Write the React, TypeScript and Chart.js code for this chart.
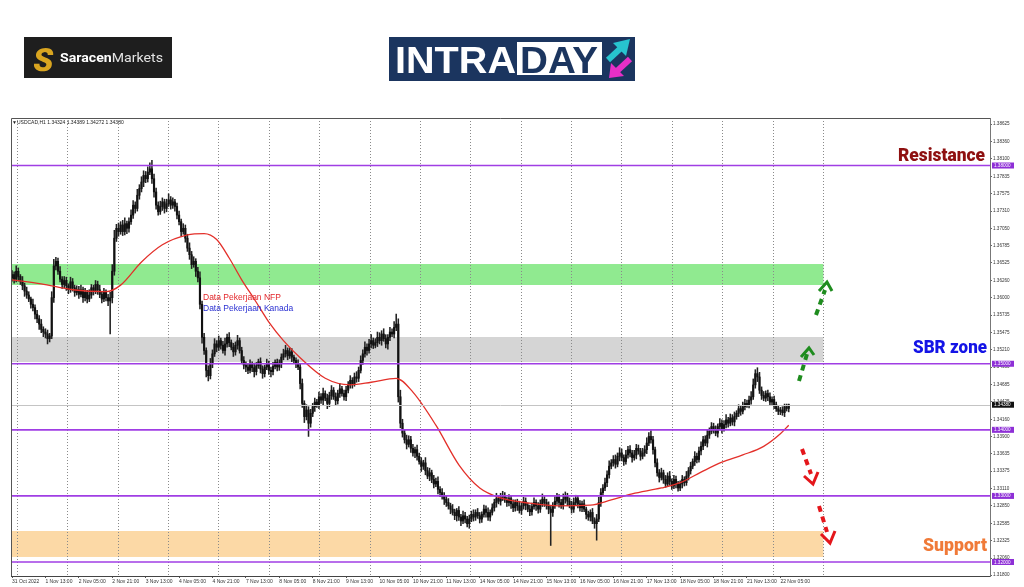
import React, { useEffect, useRef } from "react";
import { Chart, registerables } from "chart.js";

Chart.register(...registerables);

// ---------------- DATA ----------------
const BASE_PRICE = 1.3;
const PIP = 0.0001;

const timeLabels = [
  "31 Oct 2022", "1 Nov 13:00", "2 Nov 05:00", "2 Nov 21:00", "3 Nov 13:00", "4 Nov 05:00",
  "4 Nov 21:00", "7 Nov 13:00", "8 Nov 05:00", "8 Nov 21:00", "9 Nov 13:00", "10 Nov 05:00",
  "10 Nov 21:00", "11 Nov 13:00", "14 Nov 05:00", "14 Nov 21:00", "15 Nov 13:00", "16 Nov 05:00",
  "16 Nov 21:00", "17 Nov 13:00", "18 Nov 05:00", "18 Nov 21:00", "21 Nov 13:00", "22 Nov 05:00",
];
const BARS_PER_LABEL = 16;

const priceTicks = [
  1.38625, 1.3836, 1.381, 1.37835, 1.37575, 1.3731, 1.3705, 1.36785, 1.36525, 1.3626, 1.36,
  1.35735, 1.35475, 1.3521, 1.3495, 1.34685, 1.34425, 1.3416, 1.339, 1.33635, 1.33375, 1.3311,
  1.3285, 1.32585, 1.32325, 1.3206, 1.318,
];

// hourly candles, values in pips above 1.30000
const firstOpen = 630;
const closes = [
  635, 628, 640, 632, 625, 618, 610, 604, 598, 590, 585, 575, 568, 560, 552, 548,
  545, 538, 542, 600, 648, 655, 640, 628, 620, 626, 618, 612, 624, 615, 608, 612,
  605, 612, 600, 608, 598, 604, 615, 610, 620, 612, 605, 598, 608, 600, 595, 600,
  640, 690, 705, 700, 710, 700, 712, 705, 715, 725, 740, 735, 755, 765, 775, 785,
  780, 790, 795, 780, 760, 740, 730, 738, 745, 735, 742, 748, 740, 745, 738, 725,
  715, 700, 705, 690, 675, 665, 650, 655, 640, 630, 590, 540, 520, 490, 482, 500,
  515, 530, 525, 535, 528, 520, 530, 540, 532, 525, 518, 528, 535, 520, 505, 498,
  495, 490, 500, 494, 488, 497, 503, 492, 485, 495, 500, 490, 488, 496, 502, 495,
  500, 510, 515, 520, 512, 518, 510, 505, 500, 495, 470, 440, 420, 430, 410, 425,
  435, 442, 438, 450, 445, 455, 448, 440, 452, 460, 450, 444, 455, 462, 455, 450,
  460, 468, 475, 470, 480, 478, 490, 505, 515, 525, 520, 530, 535, 528, 532, 540,
  535, 545, 538, 530, 540, 548, 545, 555, 560, 450, 410, 395, 385, 378, 385, 372,
  365, 370, 360, 352, 345, 350, 338, 330, 335, 325, 318, 322, 310, 305, 300, 295,
  290, 285, 280, 275, 270, 278, 268, 262, 270, 265, 258, 265, 272, 268, 275, 270,
  265, 272, 280, 275, 268, 275, 282, 290, 296, 292, 298, 300, 294, 290, 296, 288,
  282, 290, 285, 278, 285, 292, 286, 280, 276, 284, 290, 285, 280, 288, 295, 290,
  285, 280, 275, 285, 292, 298, 290, 285, 295, 300, 292, 286, 280, 290, 296, 288,
  282, 288, 280, 272, 268, 275, 262, 258, 265, 290, 305, 312, 320, 332, 345, 350,
  355, 348, 360, 365, 358, 352, 362, 370, 365, 358, 362, 372, 368, 360, 365, 370,
  380, 390, 385, 370, 350, 335, 328, 335, 325, 318, 330, 322, 315, 325, 318, 312,
  318, 325, 320, 330, 338, 345, 352, 360, 355, 368, 375, 385, 380, 392, 398, 405,
  400, 395, 405, 410, 402, 408, 415, 410, 418, 412, 420, 425, 432, 428, 435, 440,
  438, 445, 450, 468, 485, 480, 460, 452, 448, 455, 450, 442, 446, 438, 432, 428,
  430, 426, 435, 432.4, 438,
];
const wickUp = [
  6, 4, 8, 5, 3, 7, 4, 6, 5, 3, 8, 4, 6, 5, 7, 4,
  5, 6, 4, 9, 10, 6, 5, 7, 4, 6, 5, 3, 7, 5, 4, 6,
  5, 7, 4, 6, 3, 8, 5, 4, 6, 5, 7, 3, 6, 4, 5, 8,
  10, 12, 6, 8, 5, 7, 9, 4, 6, 8, 7, 5, 9, 6, 8, 7,
  6, 8, 9, 13, 7, 6, 5, 8, 6, 4, 7, 9, 5, 6, 4, 5,
  6, 4, 7, 5, 6, 8, 5, 7, 4, 6, 9, 5, 6, 4, 7, 8,
  6, 8, 5, 7, 4, 6, 9, 5, 7, 4, 6, 5, 8, 4, 5, 6,
  5, 4, 6, 3, 7, 5, 4, 6, 5, 3, 7, 4, 5, 6, 4, 5,
  6, 5, 7, 8, 4, 6, 5, 3, 4, 6, 5, 7, 4, 8, 5, 6,
  5, 6, 4, 7, 5, 8, 4, 6, 5, 7, 4, 6, 5, 8, 4, 5,
  6, 5, 7, 4, 6, 8, 5, 7, 6, 8, 5, 7, 9, 4, 6, 8,
  7, 5, 8, 6, 4, 7, 5, 9, 15, 8, 10, 6, 5, 7, 6, 5,
  6, 4, 7, 5, 6, 4, 8, 5, 7, 4, 6, 5, 7, 4, 6, 5,
  5, 6, 4, 7, 5, 3, 6, 4, 7, 5, 4, 6, 5, 7, 4, 6,
  5, 4, 6, 5, 7, 4, 6, 5, 8, 4, 6, 7, 5, 4, 6, 5,
  6, 4, 5, 7, 4, 6, 5, 3, 6, 5, 7, 4, 5, 6, 8, 4,
  5, 6, 4, 5, 7, 6, 4, 5, 8, 6, 4, 5, 6, 7, 5, 4,
  5, 4, 6, 3, 5, 4, 6, 5, 7, 8, 6, 5, 7, 6, 8, 5,
  6, 7, 5, 8, 6, 4, 7, 5, 6, 4, 7, 6, 5, 4, 7, 6,
  8, 6, 9, 5, 4, 6, 5, 7, 4, 6, 5, 7, 4, 6, 5, 4,
  5, 6, 4, 7, 5, 6, 4, 7, 5, 6, 7, 5, 6, 8, 5, 6,
  5, 6, 4, 7, 5, 6, 8, 4, 6, 5, 7, 4, 6, 5, 7, 6,
  5, 6, 8, 9, 6, 9, 7, 5, 6, 4, 5, 6, 4, 5, 4, 5,
  4, 5, 4, 4, 1,
];
const wickDown = [
  5, 6, 4, 7, 5, 6, 8, 5, 4, 6, 5, 7, 6, 8, 5, 7,
  6, 8, 5, 4, 7, 6, 5, 4, 6, 5, 7, 6, 4, 5, 6, 4,
  6, 4, 7, 5, 6, 4, 5, 6, 4, 7, 5, 6, 4, 5, 7, 50,
  8, 6, 5, 7, 4, 6, 5, 8, 6, 4, 5, 7, 4, 6, 5, 7,
  6, 5, 4, 7, 8, 6, 5, 4, 6, 7, 5, 4, 6, 5, 7, 6,
  5, 7, 4, 6, 5, 7, 6, 4, 8, 6, 7, 9, 6, 10, 8, 5,
  6, 4, 7, 5, 6, 4, 7, 5, 6, 4, 7, 5, 6, 4, 5, 6,
  7, 5, 4, 6, 8, 5, 4, 6, 7, 5, 4, 6, 8, 5, 4, 6,
  5, 6, 4, 5, 6, 4, 7, 5, 6, 4, 8, 6, 9, 5, 20, 6,
  5, 7, 4, 6, 5, 7, 4, 8, 5, 6, 4, 7, 5, 6, 4, 5,
  6, 4, 5, 7, 4, 6, 5, 4, 6, 5, 7, 4, 6, 5, 4, 6,
  5, 7, 4, 6, 8, 5, 4, 6, 5, 8, 7, 6, 5, 7, 4, 6,
  5, 7, 6, 4, 8, 5, 6, 4, 7, 5, 6, 4, 7, 6, 5, 8,
  6, 5, 7, 4, 6, 8, 5, 7, 4, 6, 5, 7, 4, 6, 5, 4,
  6, 5, 4, 7, 5, 6, 4, 5, 7, 4, 6, 5, 4, 6, 5, 7,
  6, 5, 7, 4, 6, 5, 7, 4, 6, 5, 4, 7, 6, 5, 4, 6,
  5, 7, 50, 6, 4, 5, 7, 4, 5, 6, 7, 4, 6, 5, 4, 6,
  5, 6, 4, 7, 5, 6, 4, 7, 25, 4, 6, 5, 4, 6, 5, 4,
  5, 6, 4, 7, 5, 6, 4, 5, 6, 7, 4, 6, 5, 6, 4, 5,
  6, 4, 5, 7, 6, 5, 7, 4, 6, 5, 4, 6, 5, 4, 6, 5,
  4, 6, 5, 4, 6, 5, 4, 6, 5, 4, 6, 5, 4, 6, 5, 4,
  5, 4, 6, 5, 7, 4, 5, 6, 4, 5, 6, 4, 5, 6, 4, 5,
  4, 5, 6, 4, 5, 7, 5, 6, 4, 5, 6, 4, 5, 6, 4, 5,
  5, 4, 6, 4, 5.2,
];

// moving average read at sample bars (pips above 1.30000)
const maBars = [0, 14, 29, 45, 52, 62, 72, 84, 92, 98, 104, 110, 116, 123, 130, 138, 150, 162, 172, 184, 192, 203, 214, 224, 234, 248, 262, 277, 287, 297, 311, 320, 330, 340, 350, 360, 368, 372];
const maValues = [627, 621, 612, 609, 619, 654, 680, 695, 697, 688, 660, 627, 598, 563, 535, 509, 478, 468, 472, 478, 457, 407, 347, 312, 297, 289, 285, 286, 294, 303, 312, 320, 336, 351, 362, 375, 394, 407];

const levelPrices = [1.38, 1.35, 1.34, 1.33, 1.32];
const bidPrice = 1.3438;
const zoneLows = [1.36192, 1.35026, 1.32076];
const zoneHighs = [1.36509, 1.35405, 1.32469];

// ---------------- LAYOUT / STYLE ----------------
const X_MIN = -0.5;
const X_MAX = 468.4;
const Y_MIN = 1.31788;
const Y_MAX = 1.38719;
const GRID_START = 2.54;
const GRID_STEP = 24.13;
const GRID_COUNT = 17;
const ZONE_END = 388.6;
const zoneColors = ["#90ea90", "#d5d5d5", "#fcd9a6"];
const LEVEL_COLOR = "#a03ee4";

const toPrice = (p: number) => BASE_PRICE + p * PIP;

const decorPlugin = {
  id: "decor",
  beforeDraw(chart: any) {
    const { ctx, chartArea: a, scales } = chart;
    const x = scales.x;
    const y = scales.y;
    ctx.save();
    const xe = x.getPixelForValue(ZONE_END);
    zoneLows.forEach((lo, i) => {
      const top = y.getPixelForValue(zoneHighs[i]);
      const bot = y.getPixelForValue(lo);
      ctx.fillStyle = zoneColors[i];
      ctx.fillRect(a.left, top, xe - a.left, bot - top);
    });
    ctx.restore();
  },
  afterDatasetsDraw(chart: any) {
    const { ctx, chartArea: a, scales } = chart;
    const y = scales.y;
    ctx.save();
    const by = Math.round(y.getPixelForValue(bidPrice)) + 0.5;
    ctx.strokeStyle = "#c4c4c4";
    ctx.lineWidth = 1;
    ctx.beginPath();
    ctx.moveTo(a.left, by);
    ctx.lineTo(a.right, by);
    ctx.stroke();
    ctx.strokeStyle = LEVEL_COLOR;
    ctx.lineWidth = 1.6;
    levelPrices.forEach((p) => {
      const py = y.getPixelForValue(p);
      ctx.beginPath();
      ctx.moveTo(a.left, py);
      ctx.lineTo(a.right, py);
      ctx.stroke();
    });
    ctx.restore();
  },
  afterDraw(chart: any) {
    const { ctx, chartArea: a, scales } = chart;
    const y = scales.y;
    ctx.save();
    ctx.strokeStyle = "#555";
    ctx.lineWidth = 1;
    ctx.beginPath();
    ctx.moveTo(a.left + 0.5, a.bottom);
    ctx.lineTo(a.left + 0.5, a.top + 0.5);
    ctx.lineTo(a.right, a.top + 0.5);
    ctx.stroke();
    ctx.font = "4.6px 'Liberation Sans'";
    ctx.textBaseline = "middle";
    ctx.textAlign = "left";
    const drawTag = (p: number, bg: string) => {
      const py = y.getPixelForValue(p);
      ctx.fillStyle = bg;
      ctx.fillRect(a.right + 2, py - 3, 22, 6);
      ctx.fillStyle = "#fff";
      ctx.fillText(p.toFixed(5), a.right + 4, py + 0.3);
    };
    levelPrices.forEach((p) => drawTag(p, "#8e2fd6"));
    drawTag(bidPrice, "#111");
    ctx.restore();
  },
};

export default function App() {
  const ref = useRef<HTMLCanvasElement>(null);

  useEffect(() => {
    const opens = closes.map((c, i) => (i === 0 ? firstOpen : closes[i - 1]));
    const wickData = closes.map((c, i) => ({
      x: i,
      y: [toPrice(Math.min(opens[i], c) - wickDown[i]), toPrice(Math.max(opens[i], c) + wickUp[i])],
    }));
    const bodyData = closes.map((c, i) => ({ x: i, y: [toPrice(opens[i]), toPrice(c)] }));
    const maData = maBars.map((b, i) => ({ x: b, y: toPrice(maValues[i]) }));

    const chart = new Chart(ref.current as HTMLCanvasElement, {
      type: "bar",
      data: {
        datasets: [
          {
            type: "line",
            data: maData as any,
            borderColor: "#e3302a",
            borderWidth: 1.3,
            pointRadius: 0,
            cubicInterpolationMode: "monotone",
            order: 0,
          } as any,
          {
            type: "bar",
            data: bodyData as any,
            backgroundColor: "#111",
            barThickness: 1.5,
            minBarLength: 1,
            grouped: false,
            order: 1,
          } as any,
          {
            type: "bar",
            data: wickData as any,
            backgroundColor: "#222",
            barThickness: 0.9,
            grouped: false,
            order: 2,
          } as any,
        ],
      },
      options: {
        responsive: false,
        animation: false,
        devicePixelRatio: 1,
        layout: { padding: { left: 11, top: 118, right: 0, bottom: 0 } },
        plugins: { legend: { display: false }, tooltip: { enabled: false } },
        scales: {
          x: {
            type: "linear",
            position: "bottom",
            min: X_MIN,
            max: X_MAX,
            offset: false,
            afterBuildTicks: (s: any) => {
              s.ticks = timeLabels.map((_, k) => ({ value: k * BARS_PER_LABEL }));
            },
            afterFit: (s: any) => {
              s.height = 11;
            },
            ticks: {
              autoSkip: false,
              maxRotation: 0,
              align: "start",
              padding: 1,
              font: { family: "'Liberation Sans'", size: 5 },
              color: "#333",
              callback: (v: any) => timeLabels[Math.round(Number(v) / BARS_PER_LABEL)] ?? "",
            },
            grid: { display: true, offset: false, drawOnChartArea: false, tickLength: 2, color: "#555" },
            border: { display: true, color: "#444" },
          },
          xGrid: {
            type: "linear",
            position: "bottom",
            min: X_MIN,
            max: X_MAX,
            offset: false,
            afterBuildTicks: (s: any) => {
              s.ticks = Array.from({ length: GRID_COUNT }, (_, k) => ({ value: GRID_START + k * GRID_STEP }));
            },
            afterFit: (s: any) => {
              s.height = 0;
            },
            ticks: { display: false },
            grid: { display: true, offset: false, color: "#8a8a8a", lineWidth: 1, drawTicks: false },
            border: { display: false, dash: [1, 2] },
          },
          y: {
            type: "linear",
            position: "right",
            min: Y_MIN,
            max: Y_MAX,
            afterBuildTicks: (s: any) => {
              s.ticks = priceTicks.map((v) => ({ value: v }));
            },
            afterFit: (s: any) => {
              s.width = 34;
            },
            ticks: {
              autoSkip: false,
              padding: 1,
              font: { family: "'Liberation Sans'", size: 4.6 },
              color: "#333",
              callback: (v: any) => Number(v).toFixed(5),
            },
            grid: { display: true, drawOnChartArea: false, tickLength: 2, color: "#666" },
            border: { display: true, color: "#777" },
          },
        },
      } as any,
      plugins: [decorPlugin],
    });
    return () => chart.destroy();
  }, []);

  const bold = "Roboto, 'Liberation Sans', sans-serif";
  return (
    <div style={{ position: "fixed", left: 0, top: 0, width: 1024, height: 587, background: "#fff", overflow: "hidden" }}>
      <canvas ref={ref} width={1024} height={587} style={{ position: "absolute", left: 0, top: 0, width: 1024, height: 587 }} />
      <svg width={1024} height={587} style={{ position: "absolute", left: 0, top: 0, pointerEvents: "none" }}>
        {/* Saracen logo */}
        <rect x={24} y={37} width={148} height={41} fill="#1e1e1e" />
        <text x={33} y={71} fontFamily={bold} fontWeight={900} fontSize={32} fill="#d9a520" transform="skewX(-8) translate(9,0)">S</text>
        <text x={60} y={62} fontFamily={bold} fontSize={13.5} textLength={103} lengthAdjust="spacingAndGlyphs">
          <tspan fill="#ffffff" fontWeight={700}>Saracen</tspan>
          <tspan fill="#e2e2e2" fontWeight={400}>Markets</tspan>
        </text>
        {/* INTRADAY logo */}
        <rect x={389} y={37} width={246} height={44} fill="#1b355f" />
        <text x={395} y={73} fontFamily="'Liberation Sans', Arial, sans-serif" fontWeight={700} fontSize={37} fill="#fff" textLength={121} lengthAdjust="spacingAndGlyphs">INTRA</text>
        <rect x={517} y={42} width={85} height={33} fill="#fff" />
        <text x={520} y={73} fontFamily="'Liberation Sans', Arial, sans-serif" fontWeight={700} fontSize={37} fill="#1b355f" textLength={78} lengthAdjust="spacingAndGlyphs">DAY</text>
        <line x1={608} y1={60} x2={622} y2={47} stroke="#27c4cf" strokeWidth={6} />
        <polygon points="630,39 613,43 626,56" fill="#27c4cf" />
        <line x1={630} y1={59} x2={617} y2={71} stroke="#e62fc7" strokeWidth={6} />
        <polygon points="609,78 611,63 624,76" fill="#e62fc7" />
        {/* header */}
        <text x={12} y={124} fontFamily="'Liberation Sans'" fontSize={5} fill="#222">▼USDCAD,H1  1.34324 1.34389 1.34272 1.34380</text>
        {/* annotations */}
        <text x={203} y={299.5} fontFamily="'Liberation Sans', Arial" fontSize={8.5} fill="#e3262a">Data Pekerjaan NFP</text>
        <text x={203} y={310.5} fontFamily="'Liberation Sans', Arial" fontSize={8.5} fill="#2a30d2">Data Pekerjaan Kanada</text>
        <text x={985} y={161} textAnchor="end" fontFamily={bold} fontWeight={900} fontSize={17.5} fill="#8e1010" textLength={87} lengthAdjust="spacingAndGlyphs">Resistance</text>
        <text x={987} y={353} textAnchor="end" fontFamily={bold} fontWeight={900} fontSize={18} fill="#1414e6" textLength={74} lengthAdjust="spacingAndGlyphs">SBR zone</text>
        <text x={987} y={551} textAnchor="end" fontFamily={bold} fontWeight={900} fontSize={18} fill="#f07a38" textLength={64} lengthAdjust="spacingAndGlyphs">Support</text>
        {/* arrows */}
        <g fill="none" strokeLinecap="butt" strokeLinejoin="miter">
          <line x1={799} y1={381} x2={807} y2={354} stroke="#1e8c1e" strokeWidth={4} strokeDasharray="6 5" />
          <polyline points="801,357 809,348 814,355" stroke="#1e8c1e" strokeWidth={3} />
          <line x1={816} y1={315} x2={825} y2={290} stroke="#1e8c1e" strokeWidth={4} strokeDasharray="6 5" />
          <polyline points="819,291 827,282 832,291" stroke="#1e8c1e" strokeWidth={3} />
          <line x1={802} y1={449} x2={811} y2={474} stroke="#e4161b" strokeWidth={4} strokeDasharray="6 5" />
          <polyline points="804,476 813,484 818,472" stroke="#e4161b" strokeWidth={3} />
          <line x1={819} y1={506} x2={827} y2={532} stroke="#e4161b" strokeWidth={4} strokeDasharray="6 5" />
          <polyline points="821,534 830,543 835,531" stroke="#e4161b" strokeWidth={3} />
        </g>
      </svg>
    </div>
  );
}
